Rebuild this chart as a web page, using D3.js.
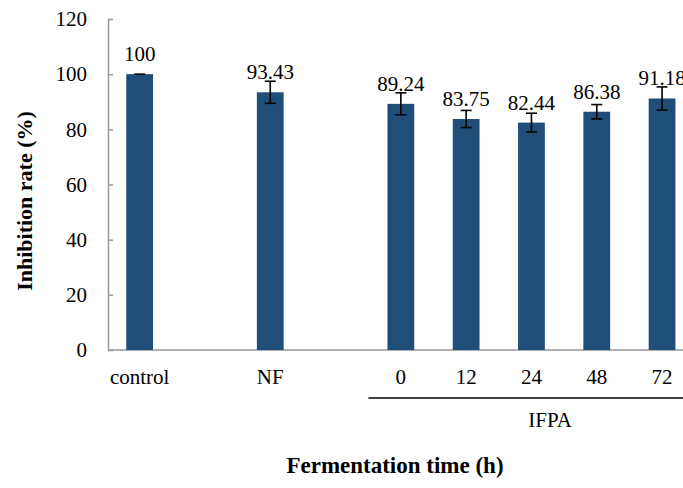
<!DOCTYPE html>
<html>
<head>
<meta charset="utf-8">
<script src="https://cdn.jsdelivr.net/npm/d3@7"></script>
<style>
  body { margin: 0; background: #fff; }
  text { font-family: "Liberation Serif", "Times New Roman", serif; fill: #000; }
</style>
</head>
<body>
<svg id="chart"></svg>
<script>
// bar chart with error bars (blank slots keep the gaps between groups)
const categories = ["control", "", "NF", "", "0", "12", "24", "48", "72"];
const values = [100, null, 93.43, null, 89.24, 83.75, 82.44, 86.38, 91.18];
const errors = [0, null, 4.0, null, 4.0, 3.1, 3.4, 2.6, 4.2];
const yTicks = [0, 20, 40, 60, 80, 100, 120];
const groupLabel = "IFPA";
const groupStart = 4;

const width = 683, height = 488;
const margin = {top: 19, left: 107, bottom: 350};

const svg = d3.select("#chart")
    .attr("width", width)
    .attr("height", height);

const x = d3.scaleBand()
    .domain(d3.range(categories.length))
    .range([margin.left, margin.left + 9 * 65.3])
    .paddingInner(0.59)
    .paddingOuter(0.295);

const y = d3.scaleLinear()
    .domain([0, 120])
    .range([margin.bottom, margin.top]);

const data = categories.map((c, i) => ({i: i, label: c, value: values[i], err: errors[i]}))
    .filter(d => d.value != null);

// y axis, ticks pointing inward
const yAxis = svg.append("g")
    .attr("transform", `translate(${margin.left + 1},0)`)
    .call(d3.axisLeft(y).tickValues(yTicks).tickSize(-5).tickSizeOuter(0).tickPadding(21));
yAxis.selectAll("path, line").attr("stroke", "#999").attr("stroke-width", 1.5);
yAxis.selectAll("text").style("font-size", "21px").attr("font-family", null);

// x axis line
svg.append("line")
    .attr("x1", margin.left + 1).attr("x2", width)
    .attr("y1", y(0)).attr("y2", y(0))
    .attr("stroke", "#999").attr("stroke-width", 1.5);

// bars
svg.selectAll("rect.bar")
    .data(data)
    .join("rect")
    .attr("class", "bar")
    .attr("x", d => x(d.i))
    .attr("width", x.bandwidth())
    .attr("y", d => y(d.value))
    .attr("height", d => y(0) - y(d.value))
    .attr("fill", "#1f4e79");

// error bars
const cx = d => x(d.i) + x.bandwidth() / 2;
const eb = svg.append("g").attr("stroke", "#000").attr("stroke-width", 1.6);
eb.selectAll("line.stem")
    .data(data.filter(d => d.err > 0))
    .join("line")
    .attr("x1", cx).attr("x2", cx)
    .attr("y1", d => y(d.value + d.err))
    .attr("y2", d => y(d.value - d.err));
eb.selectAll("line.capTop")
    .data(data)
    .join("line")
    .attr("x1", d => cx(d) - 5.5).attr("x2", d => cx(d) + 5.5)
    .attr("y1", d => y(d.value + d.err)).attr("y2", d => y(d.value + d.err));
eb.selectAll("line.capBot")
    .data(data.filter(d => d.err > 0))
    .join("line")
    .attr("x1", d => cx(d) - 5.5).attr("x2", d => cx(d) + 5.5)
    .attr("y1", d => y(d.value - d.err)).attr("y2", d => y(d.value - d.err));

// value labels
svg.selectAll("text.val")
    .data(data)
    .join("text")
    .attr("class", "val")
    .attr("x", cx)
    .attr("y", d => y(d.value) - 13)
    .attr("text-anchor", "middle")
    .style("font-size", "21px")
    .text(d => d.value);

// category labels
svg.selectAll("text.cat")
    .data(data)
    .join("text")
    .attr("class", "cat")
    .attr("x", cx)
    .attr("y", 384)
    .attr("text-anchor", "middle")
    .style("font-size", "21px")
    .text(d => d.label);

// group bracket line and label
svg.append("line")
    .attr("x1", x(groupStart) - 19).attr("x2", width)
    .attr("y1", 398).attr("y2", 398)
    .attr("stroke", "#000").attr("stroke-width", 1.5);
svg.append("text")
    .attr("x", 550).attr("y", 427)
    .attr("text-anchor", "middle")
    .style("font-size", "21px")
    .text(groupLabel);

// axis titles
svg.append("text")
    .attr("x", 395).attr("y", 473)
    .attr("text-anchor", "middle")
    .style("font-size", "23px").style("font-weight", "bold")
    .text("Fermentation time (h)");

svg.append("text")
    .attr("transform", "translate(32,201) rotate(-90)")
    .attr("text-anchor", "middle")
    .style("font-size", "22px").style("font-weight", "bold")
    .text("Inhibition rate (%)");
</script>
</body>
</html>
